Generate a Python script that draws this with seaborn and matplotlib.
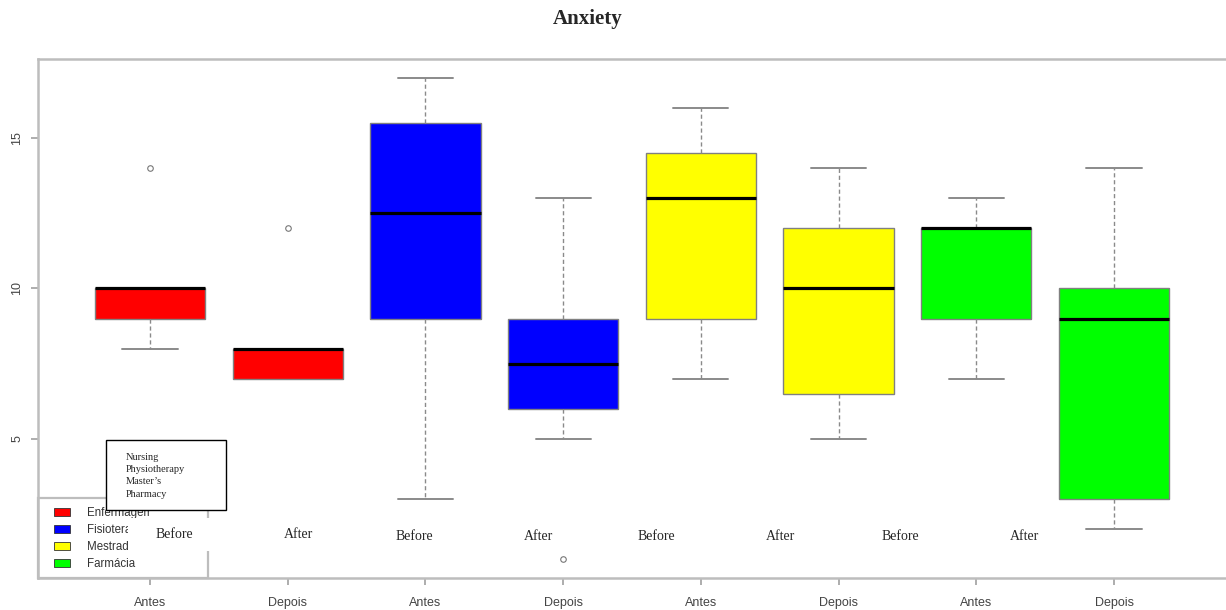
import matplotlib
matplotlib.use("Agg")
import matplotlib.pyplot as plt
from matplotlib.patches import Rectangle, Patch
import seaborn as sns
import pandas as pd

# ---- data ----
courses = ["Enfermagem", "Fisioterapia", "Mestrado", "Farmácia"]
moments = ["Antes", "Depois"]
course_colors = ["#FF0000", "#0000FF", "#FFFF00", "#00FF00"]

enf_antes = [8, 9, 10, 10, 14]
enf_depois = [7, 7, 8, 8, 12]
fis_antes = [3, 9, 12.5, 15.5, 17]
fis_depois = [1, 5, 6, 7, 7.5, 8, 9, 11, 13]
mes_antes = [7, 9, 13, 14.5, 16]
mes_depois = [5, 6.5, 10, 12, 14]
far_antes = [7, 9, 12, 12, 13]
far_depois = [2, 3, 9, 10, 14]

groups = [enf_antes, enf_depois, fis_antes, fis_depois,
          mes_antes, mes_depois, far_antes, far_depois]

overlay_labels = ["Before", "After", "Before", "After",
                  "Before", "After", "Before", "After"]
box_lines = ["Nursing", "Physiotherapy", "Master\u2019s", "Pharmacy"]

# ---- build long table ----
rows = []
order = []
palette = {}
for i, vals in enumerate(groups):
    c = courses[i // 2]
    m = moments[i % 2]
    key = f"{c} {m}"
    order.append(key)
    palette[key] = course_colors[i // 2]
    for v in vals:
        rows.append({"grupo": key, "valor": v})
df = pd.DataFrame(rows)

sns.set_style("white")
plt.rcParams["font.family"] = ["Liberation Sans", "DejaVu Sans"]

W, H = 1226, 610
fig = plt.figure(figsize=(W / 100, H / 100), dpi=100)
ax = fig.add_axes([38 / W, (H - 578) / H, (W - 38) / W, (578 - 59) / H])

GRAY = "#808080"
sns.boxplot(
    data=df, x="grupo", y="valor", hue="grupo", order=order, hue_order=order,
    palette=palette, legend=False, saturation=1, width=0.8, ax=ax,
    linecolor=GRAY, linewidth=1.0, fliersize=4,
    medianprops=dict(color="black", linewidth=2.3, zorder=4),
    whiskerprops=dict(color="#8a8a8a", linestyle=(0, (3, 2)), linewidth=1.0),
    capprops=dict(color="#8a8a8a", linewidth=1.4, zorder=1.5),
    flierprops=dict(marker="o", markerfacecolor="none",
                    markeredgecolor="#777777", markeredgewidth=0.8),
)

ax.set_xlim(-0.813, 7.813)
ax.set_ylim(0.36, 17.64)
ax.set_xlabel("")
ax.set_ylabel("")
ax.set_xticks(range(8))
ax.set_xticklabels([moments[i % 2] for i in range(8)])
ax.set_yticks([5, 10, 15])
ax.set_yticklabels(["5", "10", "15"], rotation=90, va="center")

SPINE = "#bdbdbd"
for s in ["left", "top", "bottom"]:
    ax.spines[s].set_color(SPINE)
    ax.spines[s].set_linewidth(1.8)
ax.spines["right"].set_visible(False)
ax.tick_params(axis="both", which="both", length=5, width=1.2, color="#a0a0a0",
               labelcolor="#444444", labelsize=9, bottom=True, left=True)
ax.tick_params(axis="x", pad=9)
ax.tick_params(axis="y", pad=5.5)

# ---- legend (R style, inside the bottom-left corner) ----
handles = [Patch(facecolor=c, edgecolor="#333333", linewidth=0.6) for c in course_colors]
leg = ax.legend(handles, courses, loc="lower left",
                bbox_to_anchor=((55 - 38 - 3) / (W - 38), (578 - 572) / (578 - 59)),
                frameon=False, fontsize=8.3, handlelength=1.35, handleheight=0.7,
                handletextpad=1.45, labelspacing=0.42, borderpad=0.2,
                borderaxespad=0)
for t in leg.get_texts():
    t.set_color("#333333")
leg.set_zorder(5)

def px(x, y):
    return (x / W, 1 - y / H)

# legend frame
ax.add_patch(Rectangle(px(38, 578), 170 / W, 80 / H, transform=fig.transFigure,
                       facecolor="none", edgecolor=SPINE, linewidth=1.6,
                       clip_on=False, zorder=6))
# white patches from the pasted text boxes
ax.add_patch(Rectangle(px(128, 551), 100 / W, 33 / H, transform=fig.transFigure,
                       facecolor="white", edgecolor="none", clip_on=False, zorder=7))
ax.add_patch(Rectangle(px(151, 518), 45 / W, 10 / H, transform=fig.transFigure,
                       facecolor="white", edgecolor="none", clip_on=False, zorder=7))
# Nursing / Physiotherapy box
ax.add_patch(Rectangle(px(106, 510), 120 / W, 70 / H, transform=fig.transFigure,
                       facecolor="white", edgecolor="black", linewidth=1.0,
                       clip_on=False, zorder=8))
for k, (line, yy) in enumerate(zip(box_lines, [457, 469.5, 482, 494.5])):
    fig.text(126 / W, 1 - yy / H, line, fontsize=7.5, family="Liberation Serif",
             va="center", ha="left", zorder=9)

# Before / After labels
label_x = [174, 298, 414, 538, 656, 780, 900, 1024]
label_y = [535, 535, 536, 536, 536, 536, 537, 537]
for lab, xx, yy in zip(overlay_labels, label_x, label_y):
    fig.text(xx / W, 1 - yy / H, lab, fontsize=10, family="Liberation Serif",
             ha="center", va="center", zorder=9)

fig.text(587.5 / W, 1 - 19 / H, "Anxiety", fontsize=15, fontweight="bold",
         family="Liberation Serif", ha="center", va="center")

fig.savefig("out.png", dpi=100)
